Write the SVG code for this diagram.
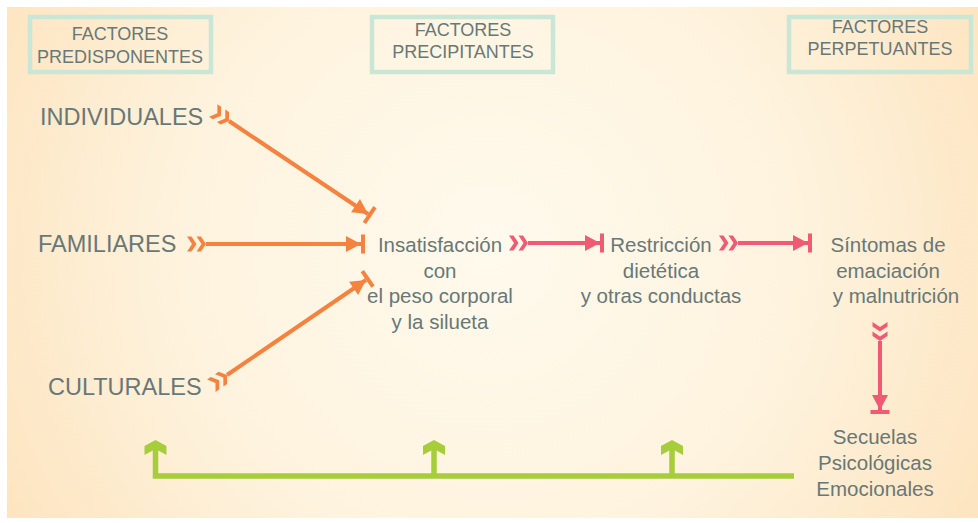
<svg xmlns="http://www.w3.org/2000/svg" width="978" height="523" viewBox="0 0 978 523">
<defs>
<radialGradient id="bg" cx="490" cy="250" r="560" gradientUnits="userSpaceOnUse">
<stop offset="0" stop-color="#fffaed"/>
<stop offset="0.55" stop-color="#fef3de"/>
<stop offset="1" stop-color="#fde4bf"/>
</radialGradient>
<marker id="tailO" viewBox="-20 -9 22 18" refX="0" refY="0" markerWidth="22" markerHeight="18" markerUnits="userSpaceOnUse" orient="auto">
<path d="M-19,-7.5 h4.5 l5,7.5 l-5,7.5 h-4.5 l5,-7.5z M-9.5,-7.5 h4.5 l5,7.5 l-5,7.5 h-4.5 l5,-7.5z" fill="#f5833f"/>
</marker>
<marker id="headO" viewBox="-16 -10 21 20" refX="0" refY="0" markerWidth="21" markerHeight="20" markerUnits="userSpaceOnUse" orient="auto">
<path d="M-15,-8 L0,0 L-15,8z" fill="#f5833f"/><rect x="0" y="-9.5" width="4" height="19" fill="#f5833f"/>
</marker>
<marker id="tailP" viewBox="-20 -9 22 18" refX="0" refY="0" markerWidth="22" markerHeight="18" markerUnits="userSpaceOnUse" orient="auto">
<path d="M-19,-7.5 h4.5 l5,7.5 l-5,7.5 h-4.5 l5,-7.5z M-9.5,-7.5 h4.5 l5,7.5 l-5,7.5 h-4.5 l5,-7.5z" fill="#f05a72"/>
</marker>
<marker id="headP" viewBox="-16 -10 21 20" refX="0" refY="0" markerWidth="21" markerHeight="20" markerUnits="userSpaceOnUse" orient="auto">
<path d="M-15,-8 L0,0 L-15,8z" fill="#f05a72"/><rect x="0" y="-9.5" width="4" height="19" fill="#f05a72"/>
</marker>
<marker id="headG" viewBox="-14 -12 16 24" refX="0" refY="0" markerWidth="16" markerHeight="24" markerUnits="userSpaceOnUse" orient="auto">
<path d="M2,0 L-4,-11 L-13,-11 L-7,0 L-13,11 L-4,11z" fill="#a6cd3a"/>
</marker>
</defs>
<style>
.t{font-family:"Liberation Sans",Arial,sans-serif;fill:#687878}
.hd{font-size:18px;text-anchor:middle}
.lb{font-size:23.5px}
.bd{font-size:20.5px;text-anchor:middle}
.box{fill:none;stroke:#c9e6d6;stroke-width:4.5}
.o{stroke:#f5833f;stroke-width:4;fill:none}
.p{stroke:#f05a72;stroke-width:4;fill:none}
.g{stroke:#a6cd3a;stroke-width:5.5;fill:none}
</style>
<rect width="978" height="523" fill="#fff"/>
<rect x="7" y="7" width="971" height="511" fill="url(#bg)"/>

<g id="h1"><rect class="box" x="30" y="17" width="181" height="55"/><text class="t hd" x="120" y="40">FACTORES</text><text class="t hd" x="120" y="63">PREDISPONENTES</text></g>
<g id="h2"><rect class="box" x="372" y="17" width="181" height="55"/><text class="t hd" x="463" y="36">FACTORES</text><text class="t hd" x="463" y="58">PRECIPITANTES</text></g>
<g id="h3"><rect class="box" x="789" y="17" width="182" height="55"/><text class="t hd" x="880" y="33">FACTORES</text><text class="t hd" x="880" y="55">PERPETUANTES</text></g>

<g id="n-individuales"><text class="t lb" x="40" y="125">INDIVIDUALES</text></g>
<g id="n-familiares"><text class="t lb" x="38" y="252">FAMILIARES</text></g>
<g id="n-culturales"><text class="t lb" x="48" y="395">CULTURALES</text></g>

<g id="n-insatisfaccion"><text class="t bd" x="440" y="252">Insatisfacción</text><text class="t bd" x="440" y="278">con</text><text class="t bd" x="440" y="303">el peso corporal</text><text class="t bd" x="440" y="329">y la silueta</text></g>
<g id="n-restriccion"><text class="t bd" x="661" y="252">Restricción</text><text class="t bd" x="661" y="278">dietética</text><text class="t bd" x="661" y="303">y otras conductas</text></g>
<g id="n-sintomas"><text class="t bd" x="888" y="252">Síntomas de</text><text class="t bd" x="888" y="278">emaciación</text><text class="t bd" x="896" y="303">y malnutrición</text></g>
<g id="n-secuelas"><text class="t bd" x="875" y="444">Secuelas</text><text class="t bd" x="875" y="470">Psicológicas</text><text class="t bd" x="875" y="496">Emocionales</text></g>

<g id="connectors">
<path class="o" d="M229,121 L368,214" marker-start="url(#tailO)" marker-end="url(#headO)"/>
<path class="o" d="M206,244 L361,244" marker-start="url(#tailO)" marker-end="url(#headO)"/>
<path class="o" d="M227,375 L366,280" marker-start="url(#tailO)" marker-end="url(#headO)"/>
<path class="p" d="M528,243 L600,243" marker-start="url(#tailP)" marker-end="url(#headP)"/>
<path class="p" d="M738,243 L808,243" marker-start="url(#tailP)" marker-end="url(#headP)"/>
<path class="p" d="M880,341 L880,410" marker-start="url(#tailP)" marker-end="url(#headP)"/>
<path class="g" d="M794,476 H155.5 V442" marker-end="url(#headG)"/>
<path class="g" d="M434,476 V442" marker-end="url(#headG)"/>
<path class="g" d="M672,476 V442" marker-end="url(#headG)"/>
</g>
</svg>
